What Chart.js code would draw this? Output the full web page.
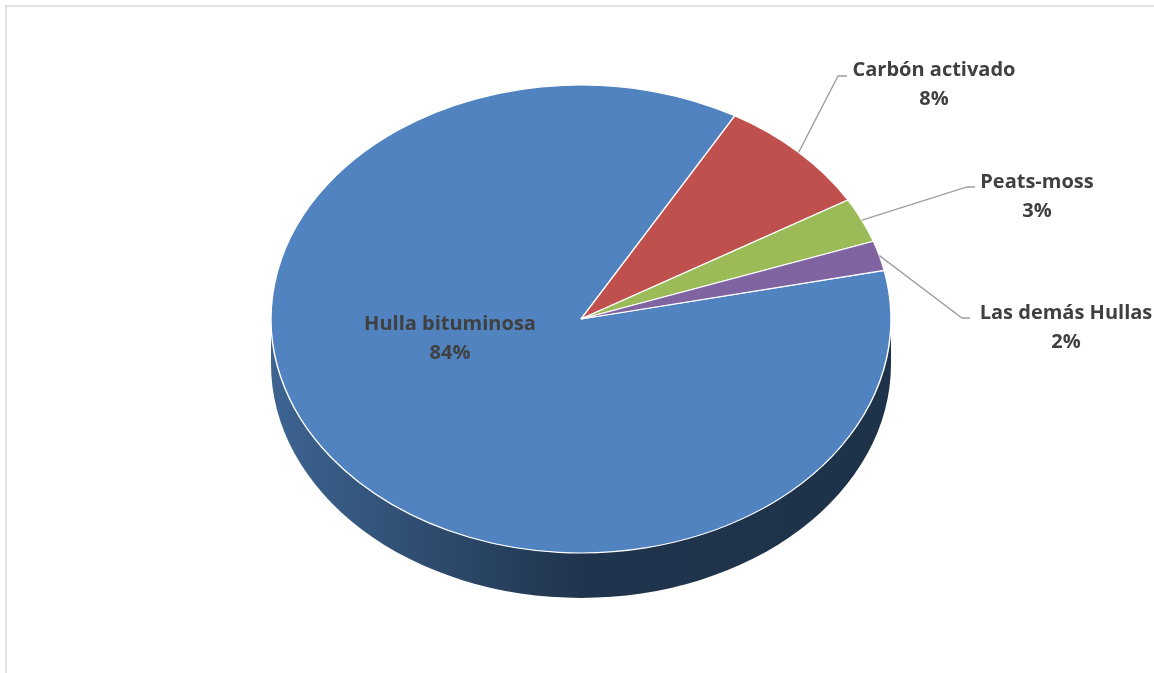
<!DOCTYPE html>
<html>
<head>
<meta charset="utf-8">
<script src="https://cdn.jsdelivr.net/npm/chart.js@4.4.1/dist/chart.umd.min.js"></script>
<style>
    html, body { margin: 0; padding: 0; background: #fff; }
    #wrap { position: relative; width: 1154px; height: 673px; }
</style>
</head>
<body>
<div id="wrap"><canvas id="pie" width="1154" height="673"></canvas></div>
<script>
// data
const categories = ['Hulla bituminosa', 'Carbón activado', 'Peats-moss', 'Las demás Hullas'];
const shares = [84, 8, 3, 2];
const shareLabels = ['84%', '8%', '3%', '2%'];
const sliceColors = ['#5083c0', '#c0504d', '#9bbb59', '#8064a2'];

// where the tilted disc sits on the page (layout only)
const disc = { cx: 581, cy: 319, rx: 310, ry: 234, depth: 45 };
// label text centre, first baseline, leader elbow x / y / end x (null = no leader)
const labelLayout = [
    { x: 450, y: 330, leader: null },
    { x: 934, y: 76, leader: [838, 76, 847] },
    { x: 1037, y: 188, leader: [967, 187, 975] },
    { x: 1066, y: 319, leader: [962, 318, 970] }
];

function shade(hex, f) {
    const n = parseInt(hex.slice(1), 16);
    const r = Math.round(((n >> 16) & 255) * f);
    const g = Math.round(((n >> 8) & 255) * f);
    const b = Math.round((n & 255) * f);
    return `rgb(${r},${g},${b})`;
}

// parts of an arc that face the viewer (front half of the disc)
function frontRanges(s, e) {
    const out = [];
    for (let k = -2; k <= 2; k++) {
        const lo = Math.max(s, 2 * Math.PI * k);
        const hi = Math.min(e, 2 * Math.PI * k + Math.PI);
        if (hi > lo) out.push([lo, hi]);
    }
    return out;
}

const tiltPlugin = {
    id: 'tilt',
    beforeDraw(chart) {
        const ctx = chart.ctx;
        ctx.save();
        ctx.strokeStyle = '#d9d9d9';
        ctx.lineWidth = 1.5;
        ctx.strokeRect(6, 6, 2000, 2000);
        ctx.restore();
    },
    beforeDatasetsDraw(chart) {
        const ctx = chart.ctx;
        const arcs = chart.getDatasetMeta(0).data;
        const a0 = arcs[0];

        // side wall
        arcs.forEach((arc, i) => {
            frontRanges(arc.startAngle, arc.endAngle).forEach(([lo, hi]) => {
                const grad = ctx.createLinearGradient(disc.cx - disc.rx, 0, disc.cx + disc.rx, 0);
                grad.addColorStop(0, shade(sliceColors[i], 0.76));
                grad.addColorStop(0.5, shade(sliceColors[i], 0.40));
                grad.addColorStop(1, shade(sliceColors[i], 0.38));
                ctx.beginPath();
                ctx.ellipse(disc.cx, disc.cy, disc.rx, disc.ry, 0, lo, hi, false);
                ctx.ellipse(disc.cx, disc.cy + disc.depth, disc.rx, disc.ry, 0, hi, lo, true);
                ctx.closePath();
                ctx.fillStyle = grad;
                ctx.fill();
            });
        });

        // squash the flat pie into the tilted top face
        ctx.save();
        const R = a0.outerRadius;
        ctx.translate(disc.cx, disc.cy);
        ctx.scale(disc.rx / R, disc.ry / R);
        ctx.translate(-a0.x, -a0.y);
    },
    afterDatasetsDraw(chart) {
        chart.ctx.restore();
    },
    afterDraw(chart) {
        const ctx = chart.ctx;
        const arcs = chart.getDatasetMeta(0).data;
        ctx.save();
        ctx.font = 'bold 20px "Open Sans"';
        ctx.fillStyle = '#404040';
        ctx.textAlign = 'center';
        ctx.textBaseline = 'alphabetic';
        labelLayout.forEach((lab, i) => {
            if (lab.leader) {
                const arc = arcs[i];
                const t = (arc.startAngle + arc.endAngle) / 2;
                const px = disc.cx + disc.rx * Math.cos(t);
                const py = disc.cy + disc.ry * Math.sin(t);
                ctx.strokeStyle = '#9e9e9e';
                ctx.lineWidth = 1.3;
                ctx.beginPath();
                ctx.moveTo(px, py);
                ctx.lineTo(lab.leader[0], lab.leader[1]);
                ctx.lineTo(lab.leader[2], lab.leader[1]);
                ctx.stroke();
            }
            ctx.fillText(categories[i], lab.x, lab.y);
            ctx.fillText(shareLabels[i], lab.x, lab.y + 29);
        });
        ctx.restore();
    }
};

new Chart(document.getElementById('pie').getContext('2d'), {
    type: 'pie',
    data: {
        labels: categories,
        datasets: [{
            data: shares,
            backgroundColor: sliceColors,
            borderColor: '#ffffff',
            borderWidth: 1.6,
            clip: false
        }]
    },
    options: {
        responsive: false,
        animation: false,
        events: [],
        rotation: 78,
        plugins: {
            legend: { display: false },
            tooltip: { enabled: false }
        }
    },
    plugins: [tiltPlugin]
});
</script>
</body>
</html>
